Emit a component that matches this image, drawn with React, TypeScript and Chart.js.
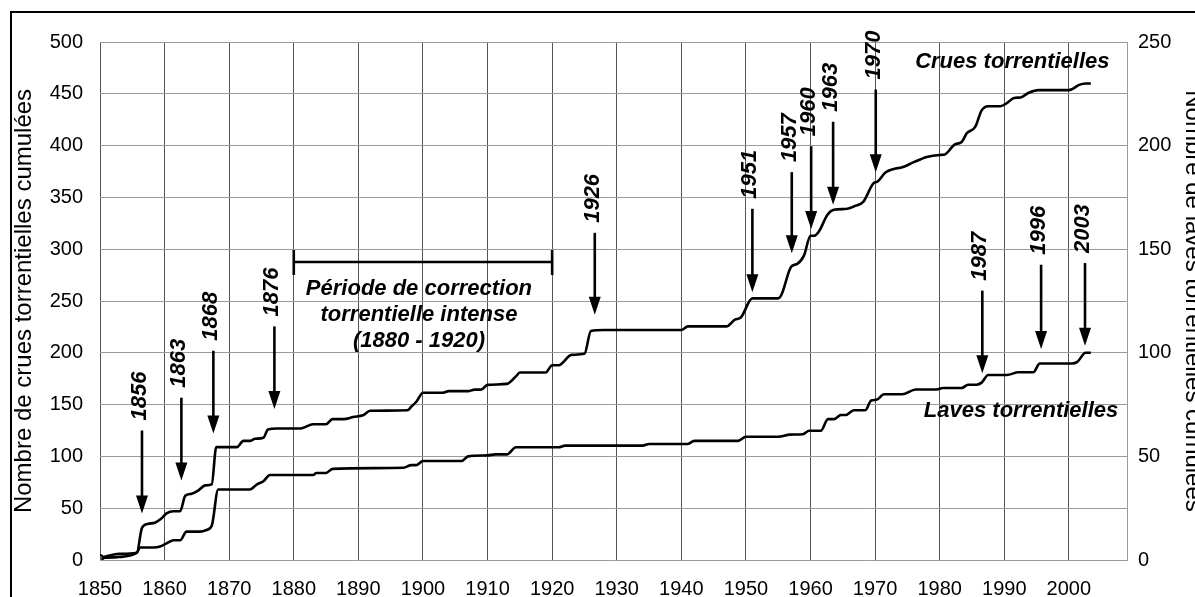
import React, { useEffect, useRef } from 'react';
import { Chart, registerables } from 'chart.js';

Chart.register(...registerables);

// ---- Axes ----
const xTickYears = [1850, 1860, 1870, 1880, 1890, 1900, 1910, 1920, 1930, 1940, 1950, 1960, 1970, 1980, 1990, 2000];
const leftTicks = [0, 50, 100, 150, 200, 250, 300, 350, 400, 450, 500];
const rightTicks = [0, 50, 100, 150, 200, 250];
const leftTitle = 'Nombre de crues torrentielles cumulées';
const rightTitle = 'Nombre de laves torrentielles cumulées';

// ---- Crues torrentielles (left axis) ----
const cruesYears = [
  1850, 1853, 1855.7, 1856.5, 1857.5, 1858.5, 1859.5, 1860.3, 1861.4, 1862.4, 1863.2, 1864.2, 1865.2, 1866.3,
  1867.3, 1868, 1871.2, 1872.2, 1873.2, 1874, 1875.3, 1876, 1877.4, 1881, 1883, 1885, 1886, 1887.7, 1889.2,
  1890.8, 1891.8, 1897.6, 1898.2, 1899, 1900, 1903, 1904, 1907, 1908, 1909, 1910, 1913, 1914.5, 1915, 1919,
  1920, 1921, 1923, 1925, 1926, 1928, 1940, 1941, 1947, 1948.3, 1949.2, 1951, 1955, 1955.5, 1957, 1958, 1959,
  1960, 1960.6, 1961.3, 1962.6, 1963.6, 1965.7, 1967, 1968.2, 1969.8, 1970.3, 1971.6, 1972.9, 1974.2, 1976,
  1978, 1980, 1980.8, 1982.3, 1983.4, 1984.2, 1985.5, 1986.5, 1987.5, 1989.4, 1990.4, 1991.5, 1992.5, 1993.8,
  1995.3, 2000, 2000.5, 2001.6, 2002.6, 2003.4,
];
const cruesValues = [
  2, 6, 7, 31, 35, 36, 40, 45, 47, 47, 62, 64, 67, 72,
  73, 109, 109, 115, 115, 117, 118, 126, 127, 127, 131, 131, 136, 136, 138,
  140, 144, 144.5, 148, 153, 161.5, 161.5, 163, 163, 164.5, 164.5, 169, 170, 178, 181, 181,
  188, 188, 198, 199, 221, 222, 222, 225.5, 225.5, 232, 234, 252.5, 252.5, 256, 283, 286, 294,
  313, 313, 317, 333, 338, 339, 342, 346, 364, 365, 374, 377.5, 379, 384,
  389, 391, 391.5, 401, 403.5, 412, 418, 434, 438, 438, 441, 446, 446.5, 451,
  453.5, 453.5, 454.5, 458.6, 460, 460,
];

// ---- Laves torrentielles (right axis) ----
const lavesYears = [
  1850, 1853, 1855.7, 1856.2, 1858.3, 1859.3, 1860.3, 1861.4, 1862.4, 1863.4, 1865.5, 1866.5, 1867.3, 1868.3,
  1873.2, 1874.3, 1875.3, 1876.3, 1883, 1883.5, 1885, 1886, 1897, 1898.2, 1899, 1900, 1906, 1907, 1910, 1911.2,
  1913, 1914.4, 1921, 1922, 1934, 1935, 1941, 1942, 1948.8, 1950, 1955, 1956.8, 1958.8, 1959.8, 1961.6, 1962.7,
  1963.7, 1964.7, 1965.5, 1966.7, 1968.5, 1969.4, 1970.2, 1971.4, 1974.2, 1976.3, 1979.5, 1980.5, 1983.4,
  1984.4, 1985.7, 1986.5, 1987.5, 1990.4, 1992.2, 1994.5, 1995.5, 2000.5, 2001.3, 2002.6, 2003.4,
];
const lavesValues = [
  1, 1.5, 3.5, 6, 6, 6.5, 8, 9.5, 9.5, 13.7, 13.7, 14.5, 16.5, 34,
  34, 36.5, 38, 41, 41, 42, 42, 44, 44.5, 45.8, 45.8, 47.8, 47.8, 50, 50.5, 51,
  51, 54.4, 54.4, 55.2, 55.2, 56, 56, 57.5, 57.5, 59.5, 59.5, 60.5, 60.7, 62.4, 62.4, 68,
  68, 70, 70, 72.3, 72.3, 77, 77.3, 80, 80, 82.3, 82.3, 83, 83,
  84.6, 84.6, 85.6, 89.3, 89.3, 90.6, 90.6, 94.8, 94.8, 95.6, 100, 100,
];

// ---- Event arrows ----
const arrowLabels = ['1856', '1863', '1868', '1876', '1926', '1951', '1957', '1960', '1963', '1970', '1987', '1996', '2003'];
const arrowYears = [1856.5, 1862.6, 1867.55, 1877, 1926.6, 1951, 1957.1, 1960.1, 1963.5, 1970.1, 1986.6, 1995.7, 2002.5];
const arrowTops = [125, 156.7, 202, 225.5, 315.8, 339, 374.4, 399.4, 423, 454.2, 130, 142.5, 143.3];
const arrowTips = [45, 76.8, 122, 145.7, 236.8, 258.5, 296, 319.5, 343, 374.3, 90.1, 101.8, 103.4];
const arrowAxes = ['y', 'y', 'y', 'y', 'y', 'y', 'y', 'y', 'y', 'y', 'y1', 'y1', 'y1'];

// ---- Period bracket ----
const periodStart = 1880;
const periodEnd = 1920;
const periodLevel = 287.6;
const periodText = ['Période de correction', 'torrentielle intense', '(1880 - 1920)'];

// ---- Series labels ----
const seriesLabels = ['Crues torrentielles', 'Laves torrentielles'];
const seriesLabelYears = [1991.25, 1992.6];
const seriesLabelValues = [474.6, 69.1];
const seriesLabelAxes = ['y', 'y1'];

const FONT = '"Liberation Sans", Arial, Helvetica, sans-serif';
const LABEL_FONT = `italic bold 22px ${FONT}`;

const annotationPlugin = {
  id: 'annotations',
  afterDatasetsDraw(chart: any) {
    const ctx = chart.ctx;
    const xs = chart.scales.x;
    ctx.save();
    ctx.fillStyle = '#000';
    ctx.strokeStyle = '#000';

    // arrows with rotated year labels
    arrowYears.forEach((yr, i) => {
      const ys = chart.scales[arrowAxes[i]];
      const x = xs.getPixelForValue(yr);
      const yTop = ys.getPixelForValue(arrowTops[i]);
      const yTip = ys.getPixelForValue(arrowTips[i]);
      const headLen = 18;
      const headHalf = 6;
      ctx.lineWidth = 2.6;
      ctx.beginPath();
      ctx.moveTo(x, yTop);
      ctx.lineTo(x, yTip - headLen + 2);
      ctx.stroke();
      ctx.beginPath();
      ctx.moveTo(x - headHalf, yTip - headLen);
      ctx.lineTo(x + headHalf, yTip - headLen);
      ctx.lineTo(x, yTip);
      ctx.closePath();
      ctx.fill();

      ctx.save();
      ctx.translate(x - 2, yTop - 10);
      ctx.rotate(-Math.PI / 2);
      ctx.font = LABEL_FONT;
      ctx.textAlign = 'left';
      ctx.textBaseline = 'middle';
      ctx.fillText(arrowLabels[i], 0, 0);
      ctx.restore();
    });

    // period bracket
    const ly = chart.scales.y;
    const bx1 = xs.getPixelForValue(periodStart);
    const bx2 = xs.getPixelForValue(periodEnd);
    const by = ly.getPixelForValue(periodLevel);
    ctx.lineWidth = 2.6;
    ctx.beginPath();
    ctx.moveTo(bx1, by);
    ctx.lineTo(bx2, by);
    ctx.moveTo(bx1, by - 12);
    ctx.lineTo(bx1, by + 13);
    ctx.moveTo(bx2, by - 12);
    ctx.lineTo(bx2, by + 13);
    ctx.stroke();

    ctx.font = LABEL_FONT;
    ctx.textAlign = 'center';
    ctx.textBaseline = 'alphabetic';
    const cx = (bx1 + bx2) / 2 - 4;
    periodText.forEach((t, i) => {
      ctx.fillText(t, cx, by + 33 + i * 25.8);
    });

    // series labels
    seriesLabels.forEach((t, i) => {
      const ys = chart.scales[seriesLabelAxes[i]];
      ctx.fillText(t, xs.getPixelForValue(seriesLabelYears[i]), ys.getPixelForValue(seriesLabelValues[i]));
    });
    ctx.restore();
  },
};

export default function App() {
  const canvasRef = useRef<HTMLCanvasElement | null>(null);

  useEffect(() => {
    const canvas = canvasRef.current;
    if (!canvas) return;
    Chart.defaults.font.family = FONT;
    Chart.defaults.color = '#000';

    const cruesData = cruesYears.map((x, i) => ({ x, y: cruesValues[i] }));
    const lavesData = lavesYears.map((x, i) => ({ x, y: lavesValues[i] }));
    const firstOnly = (n: number) => Array.from({ length: n }, (_, i) => (i === 0 ? 3 : 0));

    const chart = new Chart(canvas, {
      type: 'line',
      data: {
        datasets: [
          {
            label: 'Crues torrentielles',
            data: cruesData,
            yAxisID: 'y',
            borderColor: '#000',
            borderWidth: 2.6,
            cubicInterpolationMode: 'monotone',
            pointRadius: firstOnly(cruesData.length),
            pointBackgroundColor: '#555',
            pointBorderColor: '#000',
            pointBorderWidth: 1.5,
          },
          {
            label: 'Laves torrentielles',
            data: lavesData,
            yAxisID: 'y1',
            borderColor: '#000',
            borderWidth: 2.6,
            cubicInterpolationMode: 'monotone',
            pointRadius: firstOnly(lavesData.length),
            pointBackgroundColor: '#555',
            pointBorderColor: '#000',
            pointBorderWidth: 1.5,
          },
        ],
      },
      options: {
        responsive: false,
        animation: false,
        layout: { padding: { top: 15, left: 0, right: 0, bottom: 0 } },
        plugins: {
          legend: { display: false },
          tooltip: { enabled: false },
          title: { display: false },
        },
        scales: {
          x: {
            type: 'linear',
            min: 1850,
            max: 2009,
            afterBuildTicks: (s: any) => {
              s.ticks = xTickYears.map((v) => ({ value: v }));
            },
            afterFit: (s: any) => {
              s.height = 53;
            },
            grid: { color: '#555', lineWidth: 1, drawTicks: false },
            border: { display: false },
            ticks: {
              padding: 17,
              maxRotation: 0,
              autoSkip: false,
              font: { size: 20, family: FONT },
              color: '#000',
              callback: (v: any) => String(v),
            },
          },
          y: {
            type: 'linear',
            position: 'left',
            min: 0,
            max: 500,
            afterBuildTicks: (s: any) => {
              s.ticks = leftTicks.map((v) => ({ value: v }));
            },
            afterFit: (s: any) => {
              s.width = 88;
            },
            grid: { color: '#9a9a9a', lineWidth: 1, drawTicks: false },
            border: { display: false },
            ticks: { padding: 17, font: { size: 20, family: FONT }, color: '#000' },
            title: {
              display: true,
              text: leftTitle,
              font: { size: 24, family: FONT, lineHeight: 1 },
              padding: { top: 0, bottom: 0 },
              color: '#000',
            },
          },
          y1: {
            type: 'linear',
            position: 'right',
            min: 0,
            max: 250,
            afterBuildTicks: (s: any) => {
              s.ticks = rightTicks.map((v) => ({ value: v }));
            },
            afterFit: (s: any) => {
              s.width = 78;
            },
            grid: { display: false, drawTicks: false },
            border: { display: true, color: '#9a9a9a', width: 1 },
            ticks: { padding: 11, font: { size: 20, family: FONT }, color: '#000' },
            title: {
              display: true,
              text: rightTitle,
              font: { size: 24, family: FONT, lineHeight: 1 },
              padding: { top: 0, bottom: 0 },
              color: '#000',
            },
          },
        },
      } as any,
      plugins: [annotationPlugin],
    });

    return () => {
      chart.destroy();
    };
  }, []);

  return (
    <div
      style={{
        position: 'fixed',
        left: 0,
        top: 0,
        width: 1195,
        height: 597,
        overflow: 'hidden',
        background: '#fff',
      }}
    >
      <div
        style={{
          position: 'absolute',
          left: 10,
          top: 11,
          width: 1300,
          height: 700,
          borderTop: '2px solid #000',
          borderLeft: '2px solid #000',
        }}
      >
        <canvas
          ref={canvasRef}
          width={1193}
          height={600}
          style={{ position: 'absolute', left: 0, top: 0, width: 1193, height: 600 }}
        />
      </div>
    </div>
  );
}
